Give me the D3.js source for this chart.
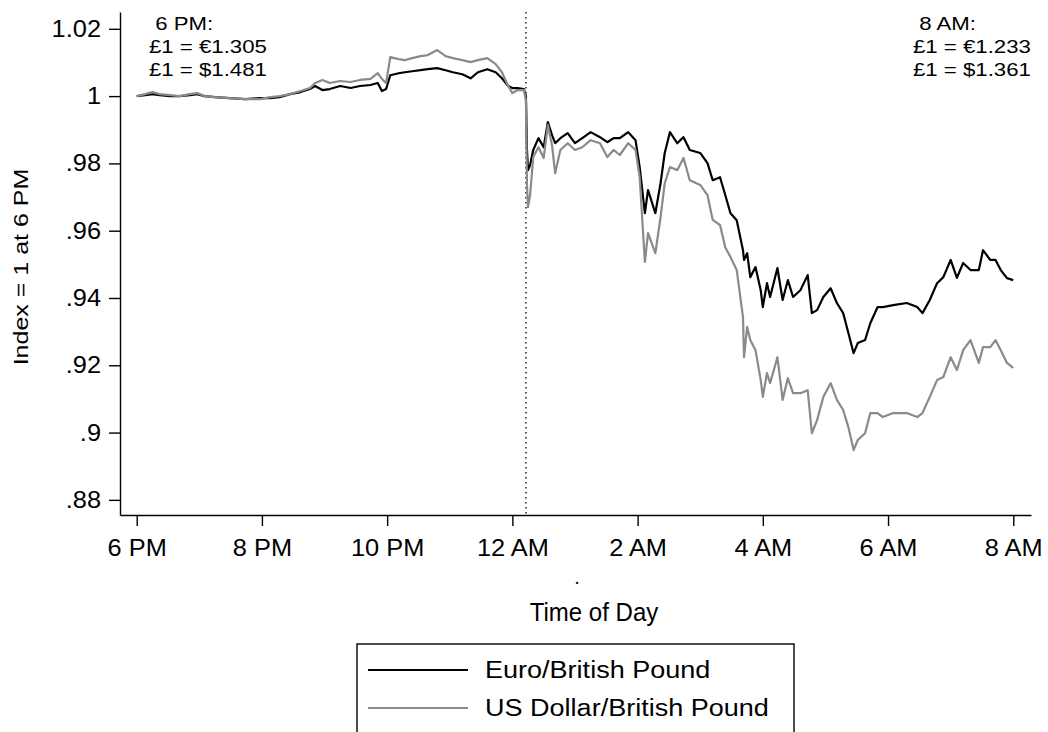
<!DOCTYPE html>
<html>
<head>
<meta charset="utf-8">
<title>Pound overnight</title>
<script src="https://d3js.org/d3.v7.min.js"></script>
<style>
  body { margin: 0; background: #fff; }
  text { font-family: "Liberation Sans", Arial, sans-serif; fill: #000; }
</style>
</head>
<body>
<div id="chart"></div>
<script>
// minutes after 6 PM
var minutes = [0,8,15,22,32,41,51,58,65,75,
  89,104,118,128,137,147,157,166,171,178,
  185,195,205,214,224,231,235,239,243,251,
  257,264,272,279,288,296,303,312,320,327,
  336,344,350,356,360,365,371,373,374,375,
  377,380,385,390,394,398,401,406,413,420,
  427,435,444,451,457,463,471,478,482,487,
  490,497,502,506,511,518,524,530,540,547,
  552,559,564,569,575,581,582,585,588,593,
  598,600,604,607,614,619,624,629,636,643,
  647,652,658,665,671,677,682,687,691,698,
  703,710,715,725,738,748,753,760,767,773,
  780,786,792,799,807,811,818,823,828,834,
  840];

var eurGbp = [1.0000,1.0003,1.0006,1.0003,1.0000,1.0000,1.0003,1.0006,1.0000,0.9997,
  0.9994,0.9991,0.9994,0.9994,0.9997,1.0006,1.0012,1.0021,1.0030,1.0018,
  1.0021,1.0030,1.0024,1.0030,1.0033,1.0039,1.0015,1.0021,1.0062,1.0068,
  1.0071,1.0074,1.0077,1.0080,1.0083,1.0077,1.0071,1.0065,1.0053,1.0071,
  1.0080,1.0071,1.0053,1.0030,1.0024,1.0024,1.0021,1.0000,0.9840,0.9780,
  0.9795,0.9840,0.9875,0.9848,0.9923,0.9884,0.9860,0.9875,0.9890,0.9860,
  0.9875,0.9893,0.9878,0.9863,0.9875,0.9875,0.9893,0.9869,0.9789,0.9652,
  0.9721,0.9652,0.9741,0.9831,0.9893,0.9860,0.9878,0.9840,0.9831,0.9801,
  0.9750,0.9759,0.9706,0.9652,0.9631,0.9542,0.9513,0.9533,0.9462,0.9492,
  0.9423,0.9373,0.9444,0.9403,0.9489,0.9394,0.9453,0.9403,0.9423,0.9468,
  0.9355,0.9364,0.9403,0.9429,0.9385,0.9355,0.9296,0.9236,0.9266,0.9275,
  0.9325,0.9373,0.9373,0.9379,0.9385,0.9373,0.9355,0.9394,0.9444,0.9462,
  0.9513,0.9460,0.9504,0.9483,0.9483,0.9542,0.9513,0.9513,0.9483,0.9459,
  0.9453];

var usdGbp = [1.0000,1.0006,1.0012,1.0006,1.0003,1.0000,1.0006,1.0009,1.0000,0.9997,
  0.9994,0.9991,0.9991,0.9997,1.0000,1.0006,1.0015,1.0024,1.0039,1.0048,
  1.0039,1.0045,1.0042,1.0048,1.0051,1.0068,1.0051,1.0039,1.0116,1.0110,
  1.0107,1.0113,1.0119,1.0122,1.0137,1.0119,1.0113,1.0107,1.0101,1.0107,
  1.0113,1.0095,1.0071,1.0030,1.0009,1.0018,1.0018,0.9988,0.9736,0.9670,
  0.9706,0.9819,0.9848,0.9816,0.9914,0.9854,0.9771,0.9840,0.9860,0.9840,
  0.9848,0.9869,0.9860,0.9819,0.9840,0.9825,0.9860,0.9840,0.9759,0.9507,
  0.9593,0.9533,0.9640,0.9741,0.9789,0.9780,0.9816,0.9750,0.9736,0.9706,
  0.9632,0.9617,0.9551,0.9522,0.9483,0.9343,0.9224,0.9314,0.9275,0.9245,
  0.9156,0.9106,0.9177,0.9147,0.9224,0.9097,0.9162,0.9117,0.9117,0.9126,
  0.8998,0.9037,0.9106,0.9147,0.9097,0.9067,0.9016,0.8948,0.8978,0.8998,
  0.9058,0.9058,0.9046,0.9058,0.9058,0.9046,0.9058,0.9106,0.9156,0.9165,
  0.9224,0.9186,0.9245,0.9275,0.9207,0.9254,0.9254,0.9275,0.9245,0.9207,
  0.9192];

var seriesNames = ["Euro/British Pound", "US Dollar/British Pound"];
var seriesColors = ["#000000", "#8a8a8a"];

var xTickMinutes = [0, 120, 240, 360, 480, 600, 720, 840];
var xTickLabels = ["6 PM", "8 PM", "10 PM", "12 AM", "2 AM", "4 AM", "6 AM", "8 AM"];
var yTickValues = [0.88, 0.90, 0.92, 0.94, 0.96, 0.98, 1.00, 1.02];
var yTickLabels = [".88", ".9", ".92", ".94", ".96", ".98", "1", "1.02"];

var markerMinute = 373; // results come in, just after midnight
var startNote = [" 6 PM:", "\u00a31 = \u20ac1.305", "\u00a31 = $1.481"];
var endNote = [" 8 AM:", "\u00a31 = \u20ac1.233", "\u00a31 = $1.361"];

var width = 1048, height = 732;

var svg = d3.select("#chart").append("svg")
  .attr("width", width)
  .attr("height", height);

var x = d3.scaleLinear().domain([-16, 857]).range([120, 1031]);
var y = d3.scaleLinear().domain([0.8755, 1.025]).range([515, 12]);

// widen text a bit, the original font is broader than Arial
function stretch(sel, k) {
  sel.each(function() {
    var w = this.getComputedTextLength();
    d3.select(this).attr("textLength", w * k).attr("lengthAdjust", "spacingAndGlyphs");
  });
}

// axes
var yAxis = svg.append("g")
  .attr("transform", "translate(120,0)")
  .call(d3.axisLeft(y).tickValues(yTickValues)
    .tickFormat(function(d, i) { return yTickLabels[i]; })
    .tickSize(11).tickSizeOuter(0).tickPadding(8));

var xAxis = svg.append("g")
  .attr("transform", "translate(0,515)")
  .call(d3.axisBottom(x).tickValues(xTickMinutes)
    .tickFormat(function(d, i) { return xTickLabels[i]; })
    .tickSize(11).tickSizeOuter(0).tickPadding(13));

svg.selectAll(".tick line, .domain").attr("stroke", "#000").attr("stroke-width", 1.4);
svg.selectAll(".tick text").attr("font-size", 23.5).attr("font-family", null).attr("fill", "#000");
stretch(svg.selectAll(".tick text"), 1.08);

// dotted line at the first results
svg.append("line")
  .attr("x1", x(markerMinute)).attr("x2", x(markerMinute))
  .attr("y1", 12).attr("y2", 515)
  .attr("stroke", "#000").attr("stroke-width", 1.3)
  .attr("stroke-dasharray", "1.5,3.5");

// the two lines
var series = [eurGbp, usdGbp];
var line = d3.line()
  .x(function(d, i) { return x(minutes[i]); })
  .y(function(d) { return y(d); });

series.forEach(function(s, k) {
  svg.append("path")
    .datum(s)
    .attr("d", line)
    .attr("fill", "none")
    .attr("stroke", seriesColors[k])
    .attr("stroke-width", 2.2)
    .attr("stroke-linejoin", "round");
});

// notes at start and end
var notes = svg.append("g");
startNote.forEach(function(t, i) {
  notes.append("text").attr("x", 149).attr("y", 30 + i * 23)
    .attr("font-size", 18.5).attr("xml:space", "preserve").text(t);
});
endNote.forEach(function(t, i) {
  notes.append("text").attr("x", 913).attr("y", 30 + i * 23)
    .attr("font-size", 18.5).attr("xml:space", "preserve").text(t);
});
stretch(notes.selectAll("text"), 1.2);

// axis titles
var yTitle = svg.append("text")
  .attr("transform", "translate(28,267) rotate(-90)")
  .attr("text-anchor", "middle")
  .attr("font-size", 20.5)
  .text("Index = 1 at 6 PM");
stretch(yTitle, 1.22);

svg.append("text")
  .attr("x", 577).attr("y", 584)
  .attr("text-anchor", "middle")
  .attr("font-size", 20)
  .text(".");

var xTitle = svg.append("text")
  .attr("x", 594).attr("y", 621)
  .attr("text-anchor", "middle")
  .attr("font-size", 25)
  .text("Time of Day");
stretch(xTitle, 0.96);

// legend
var legend = svg.append("g");
legend.append("rect")
  .attr("x", 357).attr("y", 644)
  .attr("width", 437).attr("height", 110)
  .attr("fill", "none").attr("stroke", "#000").attr("stroke-width", 1.4);

seriesNames.forEach(function(name, k) {
  legend.append("line")
    .attr("x1", 368).attr("x2", 468)
    .attr("y1", 670 + k * 38).attr("y2", 670 + k * 38)
    .attr("stroke", seriesColors[k]).attr("stroke-width", 2);
  legend.append("text")
    .attr("class", "lg")
    .attr("x", 485).attr("y", 678 + k * 38)
    .attr("font-size", 23.5)
    .text(name);
});
stretch(legend.selectAll("text.lg"), 1.15);
</script>
</body>
</html>
